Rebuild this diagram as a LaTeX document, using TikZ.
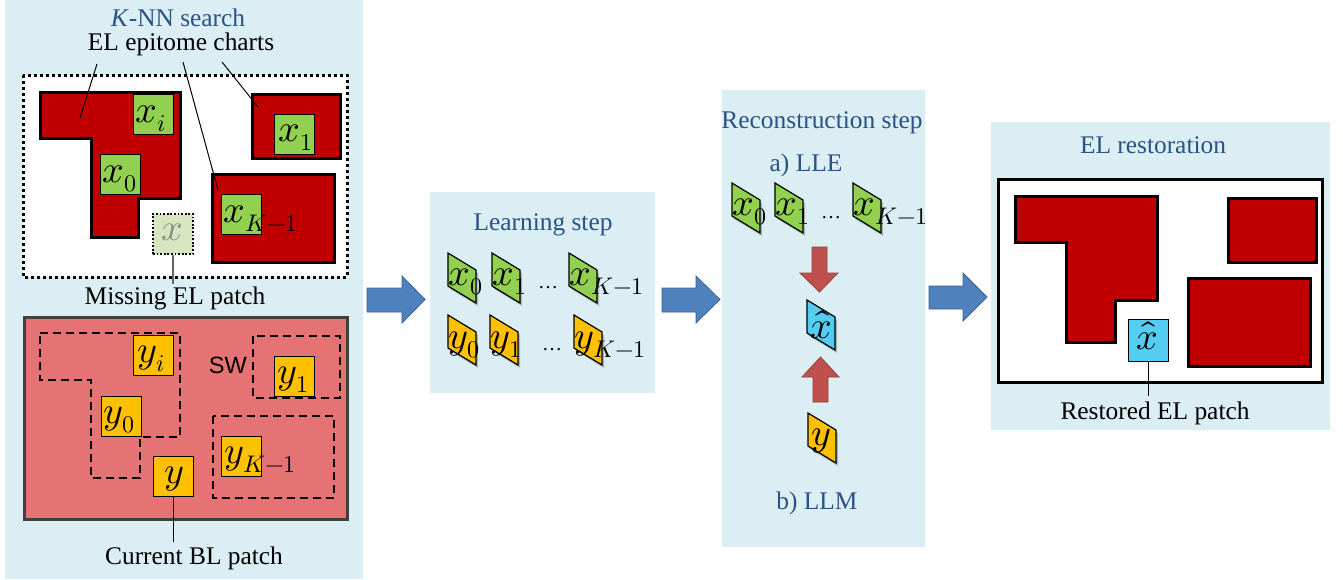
\documentclass[tikz,border=0pt]{standalone}
\usepackage{fontspec}
\usepackage{unicode-math}
\setmainfont{Liberation Serif}
\setmathfont{Latin Modern Math}
\newfontfamily\swfont{Liberation Sans}
\DeclareMathSizes{19}{19}{12}{9}
\definecolor{panelblue}{HTML}{DAEEF3}
\definecolor{titleblue}{HTML}{2A5287}
\definecolor{chartred}{HTML}{C00000}
\definecolor{patchgreen}{HTML}{92D050}
\definecolor{missgreen}{HTML}{D7E6C0}
\definecolor{patchyellow}{HTML}{FFC000}
\definecolor{coral}{HTML}{E57373}
\definecolor{patchcyan}{HTML}{55CDF3}
\definecolor{arrowblue}{HTML}{4F81BD}
\definecolor{arrowblueedge}{HTML}{3A6397}
\definecolor{arrowred}{HTML}{C0504D}
\definecolor{arrowrededge}{HTML}{94403E}
\newcommand\lblfont{\fontsize{12.7}{15}\selectfont}
\newcommand\mathfontsz{\fontsize{19}{22}\selectfont}
\newcommand\pgram[7]{%
  \fill[black, opacity=0.22] (#2+2,#3+3) -- ++(28,17) -- ++(0,33) -- ++(-28,-17) -- cycle;
  \draw[pgramedge, fill=#4] (#2,#3) -- ++(28,17) -- ++(0,33) -- ++(-28,-17) -- cycle;
  \node[mlbl, anchor=base west] (#1) at (#2+#6,#3+#7) {$#5$};
}
\begin{document}
\begin{tikzpicture}[x=0.5pt,y=-0.5pt,
  lbl/.style={font=\lblfont, inner sep=1pt},
  title/.style={lbl, text=titleblue},
  mlbl/.style={font=\mathfontsz, inner sep=0pt},
  chart/.style={fill=chartred, draw=black, line width=1.5pt, line join=miter},
  patch/.style={draw=black, line width=0.6pt, minimum width=20pt, minimum height=20pt, inner sep=0pt, anchor=north west},
  pgramedge/.style={draw=black, line width=0.6pt, line join=miter},
  leader/.style={draw=black, line width=0.5pt},
  swin/.style={draw=black, line width=0.8pt, dash pattern=on 4pt off 2.5pt},
  bluearrow/.style={fill=arrowblue, draw=arrowblueedge, line width=0.4pt},
  redarrow/.style={fill=arrowred, draw=arrowrededge, line width=0.4pt},
  dotsl/.style={font=\fontsize{10}{12}\selectfont, inner sep=0pt, anchor=base},
]
\useasboundingbox (0,0) rectangle (1343,579);
\fill[white] (0,0) rectangle (1343,579);

% panels
\fill[panelblue] (5,0) rectangle (363,579);
\fill[panelblue] (430,192) rectangle (655,393);
\fill[panelblue] (722,90) rectangle (925,547);
\fill[panelblue] (991,122) rectangle (1330,430);

% ---------- panel 1, top ----------
\node[title] (knn) at (178,18) {\textit{K}-NN search};
\node[lbl] (charts) at (181,44) {EL epitome charts};
\draw[fill=white, line width=1.5pt, dash pattern=on 1.5pt off 1.5pt] (23,75) rectangle (347,277);
\draw[chart] (40,92) -- (180,92) -- (180,198) -- (138,198) -- (138,237) -- (91,237) -- (91,138) -- (40,138) -- cycle;
\draw[chart] (252,94) rectangle (340,158);
\draw[chart] (212,174) rectangle (334,262);
\node[patch, fill=patchgreen] (pxi) at (133,94) {};
\node[patch, fill=patchgreen] (px0) at (100,154) {};
\node[patch, fill=patchgreen] (px1) at (274,114) {};
\node[patch, fill=patchgreen] (pxk) at (221,194) {};
\node[mlbl, anchor=base west] (lxi) at (135,122) {$x_i$};
\node[mlbl, anchor=base west] (lx0) at (102,182) {$x_0$};
\node[mlbl, anchor=base west] (lx1) at (278,141) {$x_1$};
\node[mlbl, anchor=base west] (lxk) at (223,222) {$x_{K-1}$};
\node[patch, fill=missgreen, line width=0.9pt, dash pattern=on 0.9pt off 0.9pt] (pmiss) at (152,213) {};
\node[mlbl, anchor=base, text=black!45] (lmiss) at (172,240) {$x$};
\coordinate (cs1) at (97,64);
\coordinate (cs2) at (183,62);
\coordinate (cs3) at (222,62);
\coordinate (ce1) at (80,118);
\coordinate (ce2) at (218,190);
\coordinate (ce3) at (258,107);
\draw[leader] (cs1) -- (ce1);
\draw[leader] (cs2) -- (ce2);
\draw[leader] (cs3) -- (ce3);
\node[lbl] (missing) at (175,298) {Missing EL patch};
\draw[draw=black!60, line width=0.9pt] (pmiss.south) -- (pmiss.south |- 0,284);

% ---------- panel 1, bottom ----------
\draw[fill=coral, draw=black!75, line width=1.5pt] (24,317) rectangle (347,519);
\draw[swin] (40,333) -- (180,333) -- (180,437) -- (140,437) -- (140,478) -- (91,478) -- (91,380) -- (40,380) -- cycle;
\draw[swin] (253,336) rectangle (340,398);
\draw[swin] (213,416) rectangle (334,498);
\node[patch, fill=patchyellow] (pyi) at (133,335) {};
\node[patch, fill=patchyellow] (py0) at (101,396) {};
\node[patch, fill=patchyellow] (py1) at (274,356) {};
\node[patch, fill=patchyellow] (pyk) at (221,436) {};
\node[patch, fill=patchyellow] (py) at (153,456) {};
\node[mlbl, anchor=base west] (lyi) at (137,362) {$y_i$};
\node[mlbl, anchor=base west] (ly0) at (103,423) {$y_0$};
\node[mlbl, anchor=base west] (ly1) at (277,383) {$y_1$};
\node[mlbl, anchor=base west] (lyk) at (224,463) {$y_{K-1}$};
\node[mlbl, anchor=base] (ly) at (174,483) {$y$};
\node[font=\swfont\fontsize{11.8}{14}\selectfont, inner sep=0pt] (sw) at (228,365) {SW};
\node[lbl] (current) at (194,558) {Current BL patch};
\draw[leader, line width=0.6pt] (py.south) -- (py.south |- 0,542);

% ---------- block arrows ----------
\draw[bluearrow] (367,288) -- (402,288) -- (402,276) -- (425,299.5) -- (402,323) -- (402,312) -- (367,312) -- cycle;
\draw[bluearrow] (662,288) -- (696,288) -- (696,276) -- (720,299.5) -- (696,323) -- (696,312) -- (662,312) -- cycle;
\draw[bluearrow] (929,286) -- (963,286) -- (963,273) -- (987,297) -- (963,321) -- (963,309) -- (929,309) -- cycle;

% ---------- learning step ----------
\node[title] (learn) at (543,225) {Learning step};
\pgram{qx0}{448}{253}{patchgreen}{x_0}{0}{32}
\pgram{qx1}{492}{253}{patchgreen}{x_1}{0}{32}
\node[dotsl] (qdots1) at (548,288) {\ldots};
\pgram{qxk}{569}{253}{patchgreen}{x_{K-1}}{0}{32}
\pgram{qy0}{448}{315}{patchyellow}{y_0}{0}{33}
\pgram{qy1}{490}{315}{patchyellow}{y_1}{0}{33}
\node[dotsl] (qdots2) at (552,350) {\ldots};
\pgram{qyk}{574}{315}{patchyellow}{y_{K-1}}{0}{33}

% ---------- reconstruction step ----------
\node[title] (recon) at (822,123) {Reconstruction step};
\node[title] (lle) at (806,165) {a) LLE};
\pgram{rx0}{732}{183}{patchgreen}{x_0}{0}{32}
\pgram{rx1}{775}{183}{patchgreen}{x_1}{0}{32}
\node[dotsl] (rdots) at (831,218) {\ldots};
\pgram{rxk}{853}{183}{patchgreen}{x_{K-1}}{0}{32}
\draw[redarrow] (812,247) -- (827,247) -- (827,273) -- (838,273) -- (819.5,292) -- (800,273) -- (812,273) -- cycle;
\pgram{rxh}{807}{300}{patchcyan}{\hat{x}}{3}{38}
\draw[redarrow] (820.5,357) -- (839,377) -- (828,377) -- (828,402) -- (813,402) -- (813,377) -- (802,377) -- cycle;
\pgram{ry}{808}{413}{patchyellow}{y}{3}{32}
\node[title] (llm) at (817,503) {b) LLM};

% ---------- EL restoration ----------
\node[title] (rest) at (1153,145) {EL restoration};
\draw[fill=white, line width=1.5pt] (998,179) rectangle (1322,382);
\draw[chart] (1015,196) -- (1157,196) -- (1157,300) -- (1115,300) -- (1115,342) -- (1066,342) -- (1066,242) -- (1015,242) -- cycle;
\draw[chart] (1228,198) rectangle (1316,262);
\draw[chart] (1188,278) rectangle (1310,366);
\node[patch, fill=patchcyan, minimum height=21pt] (pxhat) at (1128,319) {};
\node[mlbl, anchor=base] (lxhat) at (1147,349) {$\hat{x}$};
\node[lbl] (restored) at (1155,413) {Restored EL patch};
\draw[leader, line width=0.6pt] (pxhat.south) -- (pxhat.south |- 0,396);
\end{tikzpicture}
\end{document}
